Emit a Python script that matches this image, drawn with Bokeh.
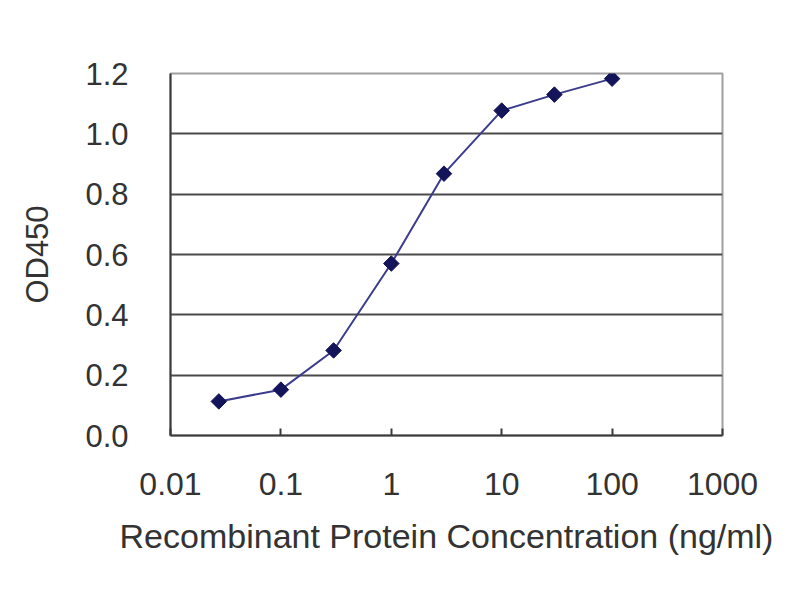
import math
from bokeh.plotting import figure
from bokeh.models import FixedTicker, CustomJSTickFormatter, ColumnDataSource
from bokeh.embed import file_html
from bokeh.resources import INLINE

# Data
concentration = [0.0274, 0.1, 0.3, 1.0, 3.0, 10.0, 30.0, 100.0]
od450 = [0.113, 0.152, 0.282, 0.570, 0.868, 1.077, 1.130, 1.183]
x_ticks = [0.01, 0.1, 1, 10, 100, 1000]
y_ticks = [0.0, 0.2, 0.4, 0.6, 0.8, 1.0, 1.2]
y_grid = [0.2, 0.4, 0.6, 0.8, 1.0]
x_title = "Recombinant Protein Concentration (ng/ml)"
y_title = "OD450"

FONT = "Liberation Sans"
TXT = "#333333"

p = figure(width=784, height=584, x_axis_type="log",
           x_range=(0.01, 1000), y_range=(0, 1.2),
           output_backend="svg", toolbar_location=None,
           min_border_left=170, min_border_right=62,
           min_border_top=73, min_border_bottom=149)

p.background_fill_color = "white"
p.border_fill_color = "white"
p.outline_line_color = "#a0a0a0"
p.outline_line_width = 2

p.xgrid.visible = False
p.ygrid.ticker = FixedTicker(ticks=y_grid)
p.ygrid.grid_line_color = "#4a4a4a"
p.ygrid.grid_line_width = 2

# x axis
xa = p.xaxis[0]
xa.ticker = FixedTicker(ticks=x_ticks, minor_ticks=[])
xa.formatter = CustomJSTickFormatter(code="return String(tick);")
xa.axis_line_color = "#3a3a3a"
xa.axis_line_width = 2
xa.major_tick_in = 7
xa.major_tick_out = 0
xa.major_tick_line_color = "#3a3a3a"
xa.major_tick_line_width = 2
xa.minor_tick_line_color = None
xa.major_label_standoff = 37
xa.major_label_text_font = FONT
xa.major_label_text_font_size = "32px"
xa.major_label_text_color = TXT
xa.axis_label = x_title
xa.axis_label_text_font = FONT
xa.axis_label_text_font_size = "34px"
xa.axis_label_text_font_style = "normal"
xa.axis_label_text_color = TXT
xa.axis_label_standoff = 19

# y axis
ya = p.yaxis[0]
ya.ticker = FixedTicker(ticks=y_ticks, minor_ticks=[])
ya.formatter = CustomJSTickFormatter(code="return tick.toFixed(1);")
ya.axis_line_color = "#3a3a3a"
ya.axis_line_width = 2
ya.major_tick_in = 0
ya.major_tick_out = 0
ya.minor_tick_line_color = None
ya.major_label_standoff = 42
ya.major_label_text_font = FONT
ya.major_label_text_font_size = "31px"
ya.major_label_text_color = TXT
ya.axis_label = y_title
ya.axis_label_text_font = FONT
ya.axis_label_text_font_size = "31px"
ya.axis_label_text_font_style = "normal"
ya.axis_label_text_color = TXT
ya.axis_label_standoff = 27

src = ColumnDataSource(data=dict(x=concentration, y=od450))
p.line("x", "y", source=src, line_color="#3c3c8c", line_width=2)
p.scatter("x", "y", source=src, marker="square", size=11, angle=math.pi / 4,
          fill_color="#14145a", line_color="#14145a")

open("out.html", "w").write(file_html(p, INLINE))
